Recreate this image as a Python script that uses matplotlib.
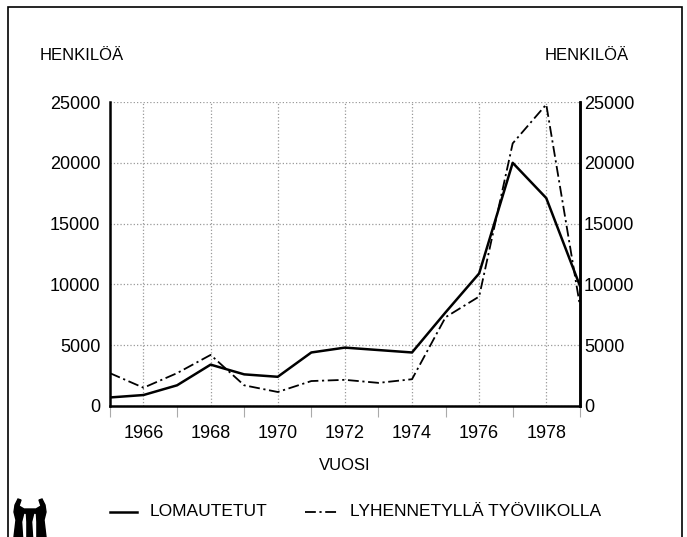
import matplotlib.pyplot as plt
from matplotlib.patches import Rectangle, Polygon

# years and the two series (persons)
vuodet = [1965, 1966, 1967, 1968, 1969, 1970, 1971, 1972, 1973, 1974, 1975, 1976, 1977, 1978, 1979]
lomautetut = [700, 900, 1700, 3400, 2600, 2400, 4400, 4800, 4600, 4400, 7700, 10900, 20000, 17100, 9900]
lyhennetty = [2700, 1500, 2700, 4200, 1700, 1150, 2050, 2150, 1900, 2200, 7300, 9000, 21600, 24800, 8300]
y_ticks = [0, 5000, 10000, 15000, 20000, 25000]
x_ticks = [1966, 1968, 1970, 1972, 1974, 1976, 1978]

plt.rcParams['font.family'] = ['Liberation Sans', 'DejaVu Sans']

fig = plt.figure(figsize=(6.87, 5.37), dpi=100)
ax = fig.add_axes([0.160, 0.244, 0.684, 0.566])

ax.plot(vuodet, lomautetut, color='black', lw=1.8)
ax.plot(vuodet, lyhennetty, color='black', lw=1.3, dashes=(6, 2, 1.2, 2))

ax.set_xlim(1965, 1979)
ax.set_ylim(0, 25000)
ax.set_xticks(x_ticks)
ax.set_xticks([1965, 1967, 1969, 1971, 1973, 1975, 1977, 1979], minor=True)
ax.set_yticks(y_ticks)
ax.grid(True, which='major', color='#999999', linestyle=':', linewidth=0.9)

ax.spines['top'].set_visible(False)
for s in ['left', 'bottom', 'right']:
    ax.spines[s].set_linewidth(1.8)

ax.tick_params(axis='y', length=0, labelsize=13, pad=7)
ax.tick_params(axis='x', which='major', length=0, labelsize=13, pad=14)
ax.tick_params(axis='x', which='minor', length=8, width=0.8, color='#aaaaaa')

ax2 = ax.twinx()
ax2.set_ylim(0, 25000)
ax2.set_yticks(y_ticks)
ax2.tick_params(axis='y', length=0, labelsize=13, pad=3)
for s in ['top', 'left', 'bottom']:
    ax2.spines[s].set_visible(False)
ax2.spines['right'].set_linewidth(1.8)

fig.text(40 / 687, 1 - 56 / 537, 'HENKILÖÄ', fontsize=12, va='center', ha='left')
fig.text(545 / 687, 1 - 56 / 537, 'HENKILÖÄ', fontsize=12, va='center', ha='left')
fig.text(345 / 687, 1 - 466 / 537, 'VUOSI', fontsize=12, va='center', ha='center')

# legend drawn by hand along the bottom
fig.lines.append(plt.Line2D([110 / 687, 137 / 687], [1 - 512 / 537] * 2, color='black', lw=1.8,
                            transform=fig.transFigure))
fig.text(150 / 687, 1 - 512 / 537, 'LOMAUTETUT', fontsize=12.5, va='center', ha='left')
fig.lines.append(plt.Line2D([305 / 687, 338 / 687], [1 - 512 / 537] * 2, color='black', lw=1.3,
                            dashes=(6, 2, 1.2, 2), transform=fig.transFigure))
fig.text(350 / 687, 1 - 512 / 537, 'LYHENNETYLLÄ TYÖVIIKOLLA', fontsize=12.5, va='center', ha='left')

# frame round the page
fig.patches.append(Rectangle((8 / 687, -0.05), 674 / 687, 1.05 - 7 / 537, fill=False,
                             edgecolor='black', lw=1.2, transform=fig.transFigure))

# rough logo bottom left
def px(pts):
    return [(x / 687, 1 - y / 537) for x, y in pts]

logo = Polygon(px([(14, 537), (16, 520), (14, 512), (15, 505), (18, 499), (21, 500), (19, 506),
                   (24, 509), (36, 509), (41, 506), (39, 500), (42, 499), (45, 505), (46, 512),
                   (44, 520), (46, 537)]),
               closed=True, color='black', transform=fig.transFigure)
fig.patches.append(logo)
for x0 in [24, 34]:
    fig.patches.append(Polygon(px([(x0, 537), (x0 - 1, 522), (x0 + 1, 514), (x0 + 1.5, 522), (x0 + 1.5, 537)]),
                               closed=True, color='white', transform=fig.transFigure))

fig.savefig('out.png', dpi=100)
